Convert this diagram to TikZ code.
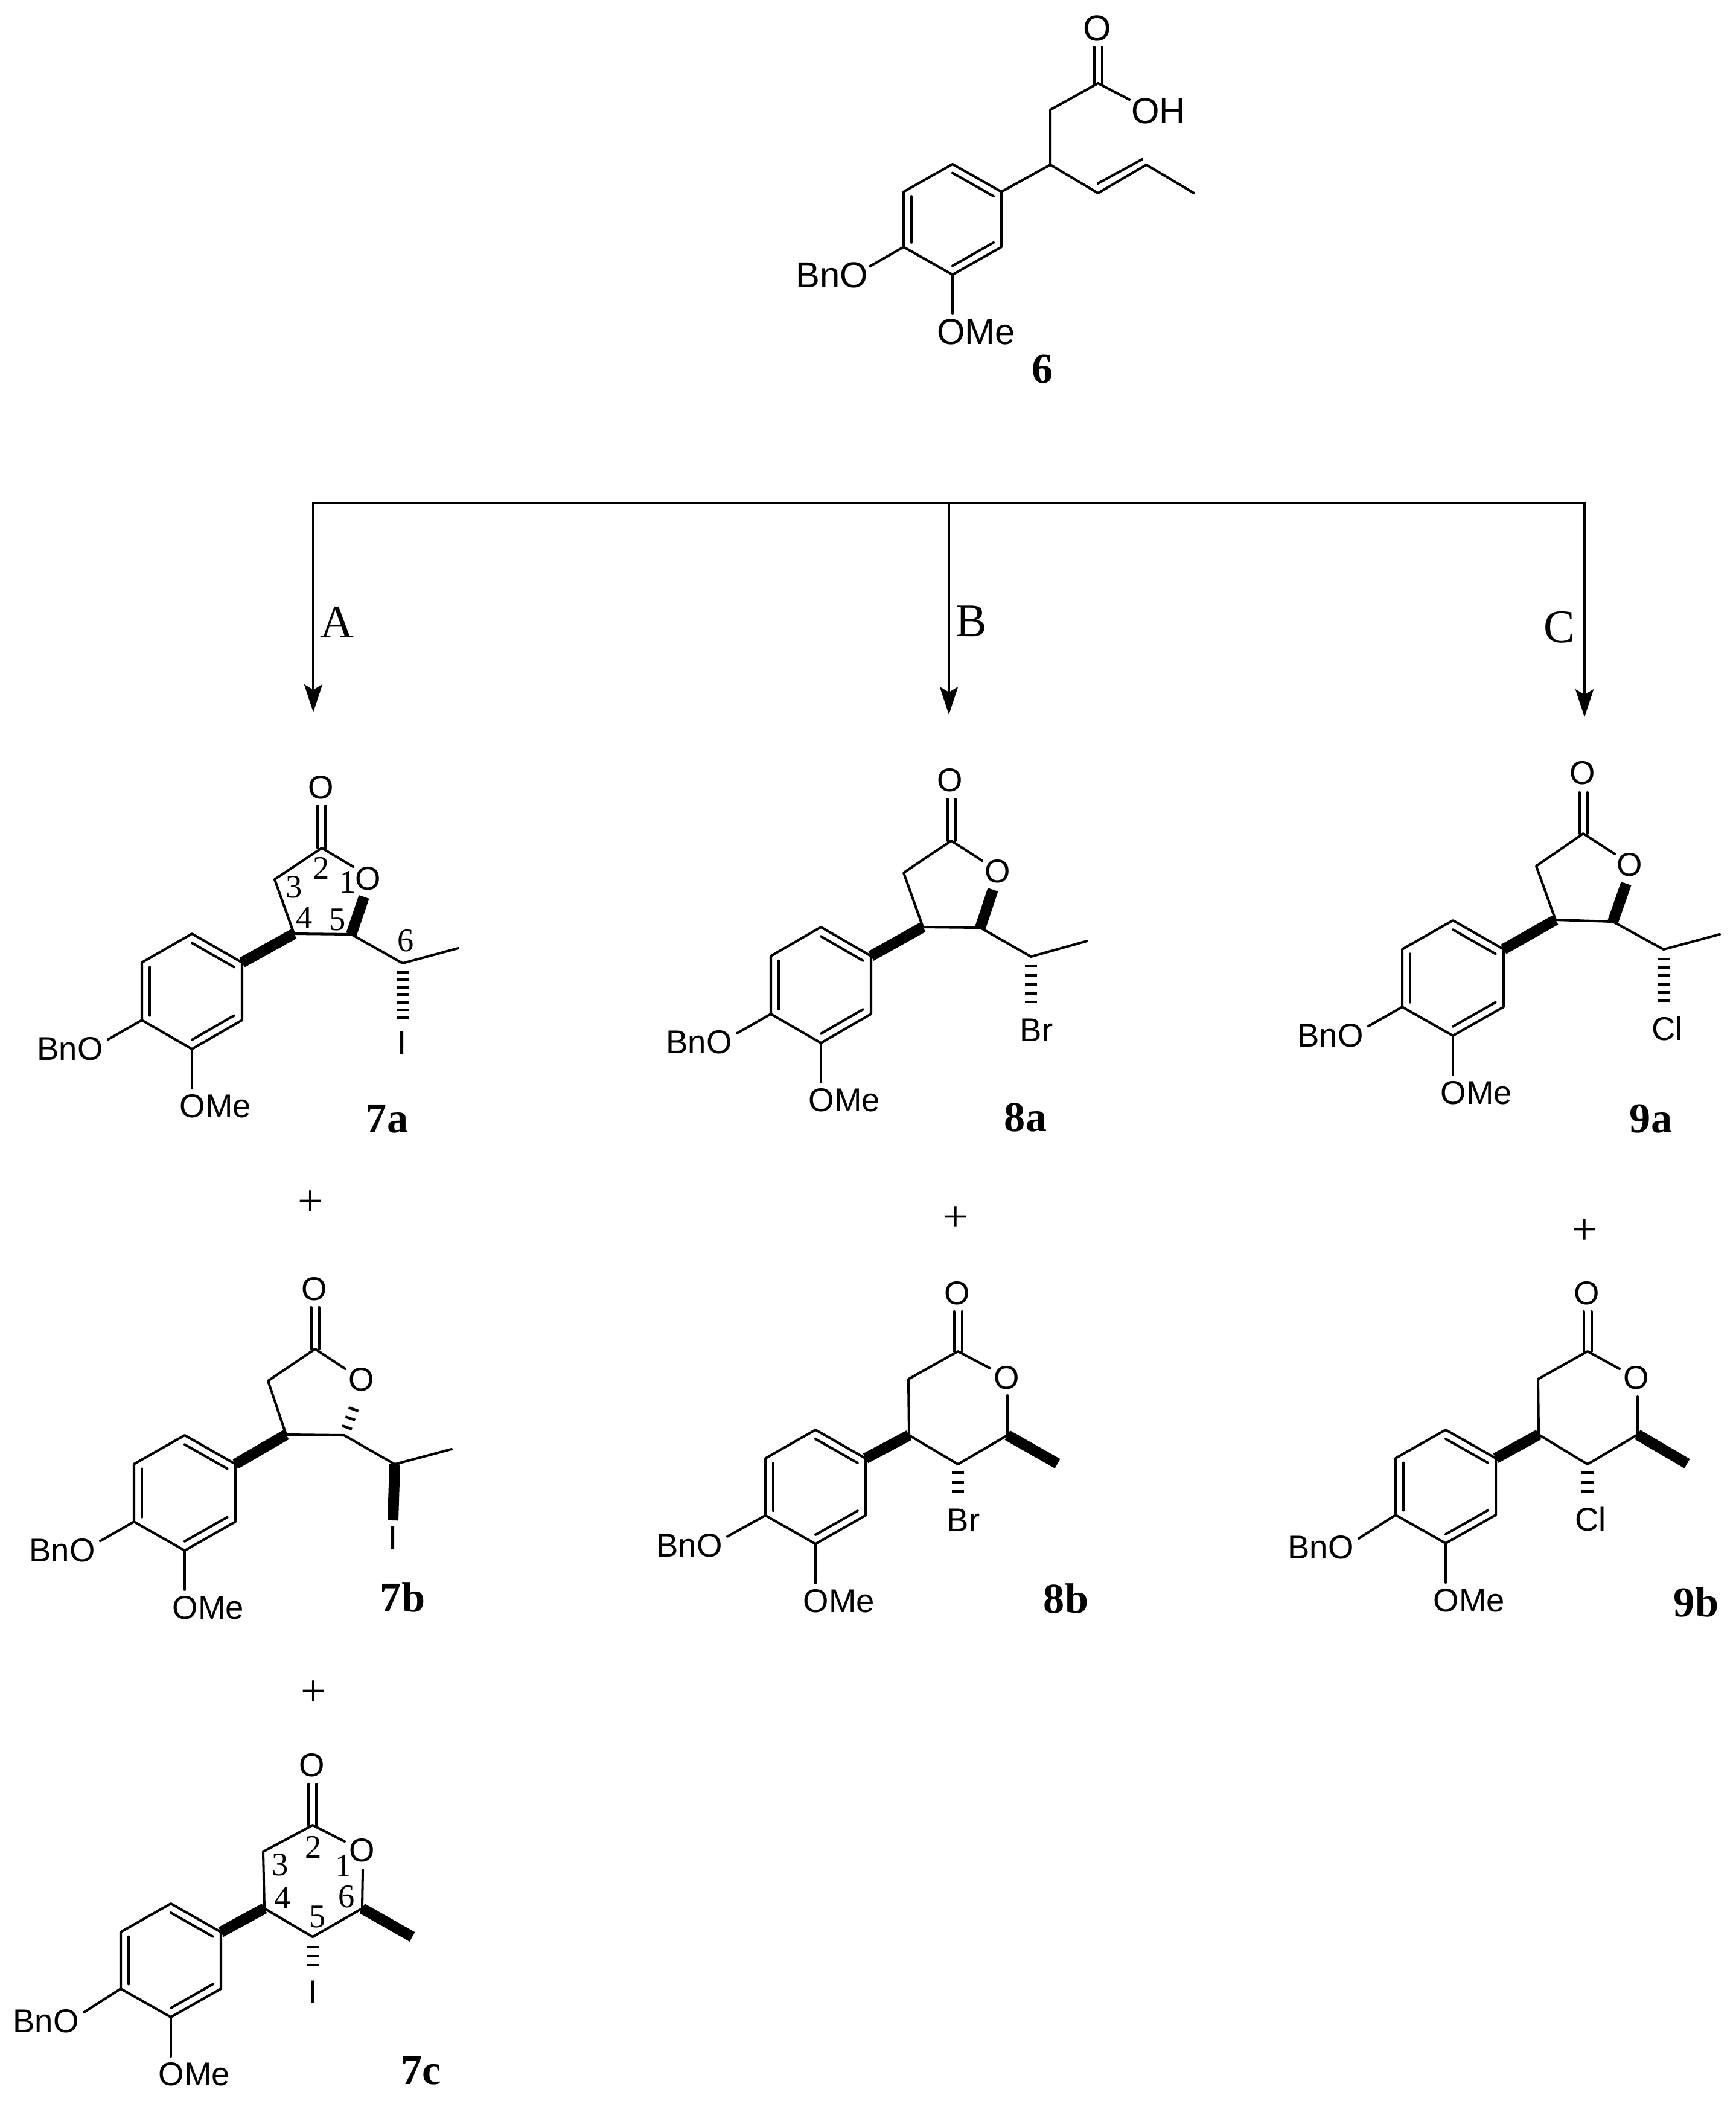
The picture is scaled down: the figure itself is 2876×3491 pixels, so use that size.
\documentclass[tikz,border=0pt]{standalone}
\usepackage{fontspec}
\setmainfont{Liberation Serif}
\newfontfamily\atomfont{Liberation Sans}
\usetikzlibrary{calc,arrows.meta}

\tikzset{
  bond/.style={line width=1.15pt,line cap=round,line join=round},
  boldbond/.style={line width=5.1pt},
  hashline/.style={line width=1.25pt},
  atom/.style={inner sep=0pt,font=\atomfont\fontsize{15.5}{15.5}\selectfont},
  compound/.style={inner sep=0pt,font=\fontsize{20}{20}\selectfont\bfseries},
  locant/.style={inner sep=0pt,font=\fontsize{15.5}{15.5}\selectfont},
  reagent/.style={inner sep=0pt,font=\fontsize{22}{22}\selectfont},
  plus/.style={inner sep=0pt,font=\fontsize{21}{21}\selectfont},
  route/.style={line width=1.3pt,line cap=rect},
  routearrow/.style={route,-{Stealth[length=13pt,width=8.5pt,inset=2.5pt]}}
}

% ring, BnO and OMe: name, top x, top y, half width, height, BnO shift
\newcommand{\arylgroup}[7]{
  \coordinate (#1-1) at (#2,#3);
  \coordinate (#1-2) at (#2+#4,#3+0.25*#5);
  \coordinate (#1-3) at (#2+#4,#3+0.75*#5);
  \coordinate (#1-4) at (#2,#3+#5);
  \coordinate (#1-5) at (#2-#4,#3+0.75*#5);
  \coordinate (#1-6) at (#2-#4,#3+0.25*#5);
  \coordinate (#1-c) at (#2,#3+0.5*#5);
  \draw[bond] (#1-1) -- (#1-2) -- (#1-3) -- (#1-4) -- (#1-5) -- (#1-6) -- cycle;
  \draw[bond] ($(#1-c)!0.84!(#1-1)$) -- ($(#1-c)!0.84!(#1-2)$);
  \draw[bond] ($(#1-c)!0.84!(#1-3)$) -- ($(#1-c)!0.84!(#1-4)$);
  \draw[bond] ($(#1-c)!0.84!(#1-5)$) -- ($(#1-c)!0.84!(#1-6)$);
  \coordinate (#1-bnoend) at ($(#1-5)+(-56+#6,32+#7)$);
  \coordinate (#1-omeend) at ($(#1-4)+(0,65)$);
  \node[atom] (#1-bno) at ($(#1-5)+(-119+#6,47+#7)$) {BnO};
  \node[atom] (#1-ome) at ($(#1-4)+(39,95)$) {OMe};
  \draw[bond] (#1-5) -- (#1-bnoend);
  \draw[bond] (#1-4) -- (#1-omeend);
}
% carbonyl: carbon, top of the bond
\newcommand{\carbonyl}[2]{
  \draw[bond] ($(#1)+(-6.5,0)$) -- ($(#2)+(-6.5,0)$);
  \draw[bond] ($(#1)+(6.5,0)$) -- ($(#2)+(6.5,0)$);
}
% stripes: first, last, how many minus one, half width
\newcommand{\hashbond}[4]{
  \foreach \k in {0,...,#3} {
    \pgfmathsetmacro{\frc}{\k/#3}
    \draw[hashline] ($(#1)!\frc!(#2)!#4!90:(#2)$) -- ($(#1)!\frc!(#2)!#4!-90:(#2)$);
  }
}

\begin{document}
\begin{tikzpicture}[x=0.01cm,y=-0.01cm]
  \useasboundingbox (0,0) rectangle (2876,3491);

  % acid 6
  \begin{scope}[atom/.append style={font=\atomfont\fontsize{17}{17}\selectfont}]
  \arylgroup{s}{1578}{272}{81}{183}{0}{0}
  \coordinate (s-ch) at (1740,273);
  \coordinate (s-ch2) at (1740,182);
  \coordinate (s-co) at (1819,138);
  \coordinate (s-cotop) at (1819,78);
  \coordinate (s-ohend) at (1871,165);
  \coordinate (s-v1) at (1819,320);
  \coordinate (s-v2) at (1899,273);
  \coordinate (s-me) at (1978,320);
  \coordinate (s-v1in) at (1819,304);
  \coordinate (s-v2in) at (1892,264);
  \node[atom] (s-o) at (1818,47) {O};
  \node[atom] (s-oh) at (1919,184) {OH};
  \node[compound] (lab6) at (1727,612) {6};
  \draw[bond] (s-2) -- (s-ch) -- (s-ch2) -- (s-co) -- (s-ohend);
  \carbonyl{s-co}{s-cotop}
  \draw[bond] (s-ch) -- (s-v1) -- (s-v2) -- (s-me);
  \draw[bond] (s-v1in) -- (s-v2in);
  \end{scope}

  % routes
  \coordinate (r-a) at (519,833);
  \coordinate (r-b) at (1572,833);
  \coordinate (r-c) at (2625,833);
  \coordinate (r-ae) at (519,1180);
  \coordinate (r-be) at (1572,1184);
  \coordinate (r-ce) at (2625,1188);
  \draw[route] (r-a) -- (r-b) -- (r-c);
  \draw[routearrow] (r-a) -- (r-ae);
  \draw[routearrow] (r-b) -- (r-be);
  \draw[routearrow] (r-c) -- (r-ce);
  \node[reagent] (lab-a) at (558,1031) {A};
  \node[reagent] (lab-b) at (1609,1029) {B};
  \node[reagent] (lab-c) at (2583,1039) {C};

  % 7a
  \arylgroup{a}{318}{1547}{83}{191}{0}{0}
  \coordinate (a-c4) at (487,1547);
  \coordinate (a-c5) at (582,1548);
  \coordinate (a-c3) at (455,1457);
  \coordinate (a-c2) at (533,1405);
  \coordinate (a-cotop) at (533,1335);
  \coordinate (a-oend) at (585,1436);
  \coordinate (a-oend2) at (603,1486);
  \coordinate (a-c6) at (667,1596);
  \coordinate (a-me) at (759,1571);
  \coordinate (a-h1) at (667,1611);
  \coordinate (a-h2) at (667,1698);
  \node[atom] (a-o) at (532,1305) {O};
  \node[atom] (a-ro) at (610,1456) {O};
  \node[atom] (a-x) at (666,1728) {I};
  \node[compound] (lab7a) at (641,1854) {7a};
  \draw[boldbond] (a-2) -- (a-c4);
  \draw[bond] (a-c5) -- (a-c4) -- (a-c3) -- (a-c2) -- (a-oend);
  \carbonyl{a-c2}{a-cotop}
  \draw[boldbond] (a-c5) -- (a-oend2);
  \draw[bond] (a-c5) -- (a-c6) -- (a-me);
  \hashbond{a-h1}{a-h2}{7}{1mm}
  \node[locant] (a-n1) at (576,1461) {1};
  \node[locant] (a-n2) at (532,1438) {2};
  \node[locant] (a-n3) at (487,1470) {3};
  \node[locant] (a-n4) at (504,1521) {4};
  \node[locant] (a-n5) at (559,1524) {5};
  \node[locant] (a-n6) at (672,1559) {6};

  \node[plus] (p1) at (514,1994) {+};

  % 7b
  \arylgroup{b}{306}{2378}{84}{191}{0}{0}
  \coordinate (b-c4) at (474,2377);
  \coordinate (b-c5) at (570,2378);
  \coordinate (b-c3) at (444,2288);
  \coordinate (b-c2) at (522,2235);
  \coordinate (b-cotop) at (522,2166);
  \coordinate (b-oend) at (572,2268);
  \coordinate (b-h1) at (575,2365);
  \coordinate (b-h2) at (591,2320);
  \coordinate (b-c6) at (654,2426);
  \coordinate (b-me) at (748,2401);
  \coordinate (b-xend) at (651,2519);
  \node[atom] (b-o) at (521,2136) {O};
  \node[atom] (b-ro) at (599,2286) {O};
  \node[atom] (b-x) at (651,2548) {I};
  \node[compound] (lab7b) at (667,2646) {7b};
  \draw[boldbond] (b-2) -- (b-c4);
  \draw[bond] (b-c5) -- (b-c4) -- (b-c3) -- (b-c2) -- (b-oend);
  \carbonyl{b-c2}{b-cotop}
  \hashbond{b-h1}{b-h2}{3}{0.85mm}
  \draw[bond] (b-c5) -- (b-c6) -- (b-me);
  \draw[boldbond] (b-c6) -- (b-xend);

  \node[plus] (p2) at (519,2806) {+};

  % 7c
  \arylgroup{c}{283}{3154}{83}{188}{-5}{7}
  \coordinate (c-c4) at (438,3162);
  \coordinate (c-c3) at (436,3068);
  \coordinate (c-c2) at (518,3024);
  \coordinate (c-cotop) at (518,2956);
  \coordinate (c-oend) at (571,3051);
  \coordinate (c-oend2) at (601,3098);
  \coordinate (c-c6) at (600,3162);
  \coordinate (c-c5) at (518,3209);
  \coordinate (c-me) at (683,3209);
  \coordinate (c-h1) at (518,3226);
  \coordinate (c-h2) at (518,3271);
  \node[atom] (c-o) at (517,2925) {O};
  \node[atom] (c-ro) at (600,3066) {O};
  \node[atom] (c-x) at (518,3301) {I};
  \node[compound] (lab7c) at (698,3431) {7c};
  \draw[boldbond] (c-2) -- (c-c4);
  \draw[bond] (c-c5) -- (c-c4) -- (c-c3) -- (c-c2) -- (c-oend);
  \carbonyl{c-c2}{c-cotop}
  \draw[bond] (c-oend2) -- (c-c6) -- (c-c5);
  \draw[boldbond] (c-c6) -- (c-me);
  \hashbond{c-h1}{c-h2}{3}{1mm}
  \node[locant] (c-n1) at (569,3091) {1};
  \node[locant] (c-n2) at (519,3060) {2};
  \node[locant] (c-n3) at (464,3090) {3};
  \node[locant] (c-n4) at (468,3145) {4};
  \node[locant] (c-n5) at (526,3176) {5};
  \node[locant] (c-n6) at (574,3143) {6};

  % 8a
  \arylgroup{d}{1360}{1536}{83}{192}{0}{0}
  \coordinate (d-c4) at (1529,1536);
  \coordinate (d-c5) at (1624,1537);
  \coordinate (d-c3) at (1497,1446);
  \coordinate (d-c2) at (1576,1393);
  \coordinate (d-cotop) at (1576,1324);
  \coordinate (d-oend) at (1627,1426);
  \coordinate (d-oend2) at (1645,1474);
  \coordinate (d-c6) at (1708,1585);
  \coordinate (d-me) at (1801,1559);
  \coordinate (d-h1) at (1708,1601);
  \coordinate (d-h2) at (1708,1675);
  \node[atom] (d-o) at (1574,1293) {O};
  \node[atom] (d-ro) at (1653,1444) {O};
  \node[atom] (d-x) at (1717,1707) {Br};
  \node[compound] (lab8a) at (1699,1851) {8a};
  \draw[boldbond] (d-2) -- (d-c4);
  \draw[bond] (d-c5) -- (d-c4) -- (d-c3) -- (d-c2) -- (d-oend);
  \carbonyl{d-c2}{d-cotop}
  \draw[boldbond] (d-c5) -- (d-oend2);
  \draw[bond] (d-c5) -- (d-c6) -- (d-me);
  \hashbond{d-h1}{d-h2}{5}{1mm}

  \node[plus] (p3) at (1583,2020) {+};

  % 8b
  \arylgroup{e}{1351}{2369}{83}{189}{-7}{3}
  \coordinate (e-c4) at (1506,2378);
  \coordinate (e-c3) at (1505,2285);
  \coordinate (e-c2) at (1587,2239);
  \coordinate (e-cotop) at (1587,2173);
  \coordinate (e-oend) at (1640,2267);
  \coordinate (e-oend2) at (1669,2312);
  \coordinate (e-c6) at (1669,2378);
  \coordinate (e-c5) at (1587,2426);
  \coordinate (e-me) at (1752,2425);
  \coordinate (e-h1) at (1587,2440);
  \coordinate (e-h2) at (1587,2487);
  \node[atom] (e-o) at (1586,2143) {O};
  \node[atom] (e-ro) at (1668,2283) {O};
  \node[atom] (e-x) at (1596,2519) {Br};
  \node[compound] (lab8b) at (1766,2648) {8b};
  \draw[boldbond] (e-2) -- (e-c4);
  \draw[bond] (e-c5) -- (e-c4) -- (e-c3) -- (e-c2) -- (e-oend);
  \carbonyl{e-c2}{e-cotop}
  \draw[bond] (e-oend2) -- (e-c6) -- (e-c5);
  \draw[boldbond] (e-c6) -- (e-me);
  \hashbond{e-h1}{e-h2}{3}{1mm}

  % 9a
  \arylgroup{f}{2407}{1525}{84}{191}{0}{0}
  \coordinate (f-c4) at (2577,1524);
  \coordinate (f-c5) at (2672,1527);
  \coordinate (f-c3) at (2545,1435);
  \coordinate (f-c2) at (2623,1381);
  \coordinate (f-cotop) at (2623,1313);
  \coordinate (f-oend) at (2675,1415);
  \coordinate (f-oend2) at (2694,1464);
  \coordinate (f-c6) at (2756,1573);
  \coordinate (f-me) at (2849,1548);
  \coordinate (f-h1) at (2756,1589);
  \coordinate (f-h2) at (2756,1672);
  \node[atom] (f-o) at (2622,1281) {O};
  \node[atom] (f-ro) at (2700,1433) {O};
  \node[atom] (f-x) at (2762,1704) {Cl};
  \node[compound] (lab9a) at (2735,1854) {9a};
  \draw[boldbond] (f-2) -- (f-c4);
  \draw[bond] (f-c5) -- (f-c4) -- (f-c3) -- (f-c2) -- (f-oend);
  \carbonyl{f-c2}{f-cotop}
  \draw[boldbond] (f-c5) -- (f-oend2);
  \draw[bond] (f-c5) -- (f-c6) -- (f-me);
  \hashbond{f-h1}{f-h2}{6}{1mm}

  \node[plus] (p4) at (2625,2041) {+};

  % 9b
  \arylgroup{g}{2395}{2369}{83}{188}{-5}{7}
  \coordinate (g-c4) at (2549,2377);
  \coordinate (g-c3) at (2548,2285);
  \coordinate (g-c2) at (2630,2239);
  \coordinate (g-cotop) at (2630,2173);
  \coordinate (g-oend) at (2683,2268);
  \coordinate (g-oend2) at (2713,2314);
  \coordinate (g-c6) at (2713,2377);
  \coordinate (g-c5) at (2630,2426);
  \coordinate (g-me) at (2795,2425);
  \coordinate (g-h1) at (2630,2440);
  \coordinate (g-h2) at (2630,2487);
  \node[atom] (g-o) at (2629,2143) {O};
  \node[atom] (g-ro) at (2711,2283) {O};
  \node[atom] (g-x) at (2635,2517) {Cl};
  \node[compound] (lab9b) at (2810,2654) {9b};
  \draw[boldbond] (g-2) -- (g-c4);
  \draw[bond] (g-c5) -- (g-c4) -- (g-c3) -- (g-c2) -- (g-oend);
  \carbonyl{g-c2}{g-cotop}
  \draw[bond] (g-oend2) -- (g-c6) -- (g-c5);
  \draw[boldbond] (g-c6) -- (g-me);
  \hashbond{g-h1}{g-h2}{3}{1mm}
\end{tikzpicture}
\end{document}
